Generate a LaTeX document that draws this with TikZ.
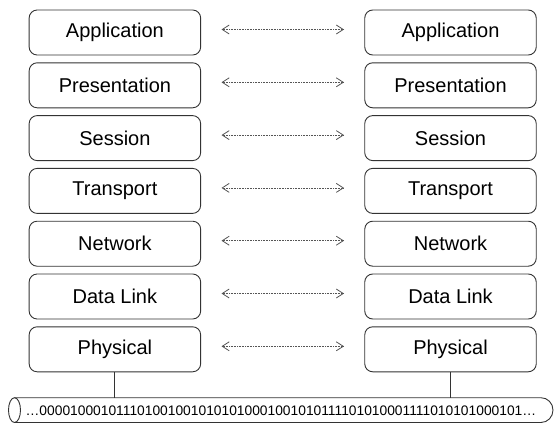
\documentclass[tikz,border=0pt]{standalone}
\usepackage{fontspec}
\setmainfont{Liberation Sans}
\usetikzlibrary{arrows.meta}
\definecolor{edge}{HTML}{333333}
\definecolor{arr}{HTML}{555555}
\tikzset{
  layer/.style={draw=edge, line width=0.9pt, rounded corners=8pt, minimum width=171.5pt, minimum height=45pt, inner sep=0pt, font=\fontsize{20}{22}\selectfont},
  peer/.style={draw=arr, line width=0.5pt, dash pattern=on 1pt off 0.6pt, {Straight Barb[length=7pt,width=9pt,line width=0.8pt]}-{Straight Barb[length=7pt,width=9pt,line width=0.8pt]}},
  wire/.style={draw=edge, line width=0.9pt}
}
\begin{document}
\begin{tikzpicture}[x=1pt,y=-1pt]
\useasboundingbox (0,0) rectangle (555,423);
\foreach \n/\t [count=\i from 0] in {A/Application,P/Presentation,S/Session,T/Transport,N/Network,D/Data Link,H/Physical}{
  \node[layer] (L\n) at (114.9,32.5+52.8*\i) {\t};
  \node[layer] (R\n) at (450.5,32.5+52.8*\i) {\t};
  \coordinate (la\n) at (221.5,29.5+52.8*\i);
  \coordinate (ra\n) at (344,29.5+52.8*\i);
  \draw[peer] (la\n) -- (ra\n);
}
% cable
\coordinate (ctl) at (14.5,397.7);
\coordinate (ctr) at (541,397.7);
\draw[wire] (14.5,410.1) ellipse [x radius=6, y radius=12.4];
\draw[wire] (ctl) -- (ctr) arc[start angle=-90, end angle=90, x radius=12, y radius=12.4] -- (14.5,422.5);
\node[font=\fontsize{13.8}{16}\selectfont, inner sep=0pt] (bits) at (281,410.5) {…0000100010111010010010101010001001010111101010001111010101000101…};
\draw[wire] (LH.south) -- (LH.south |- ctl);
\draw[wire] (RH.south) -- (RH.south |- ctl);
\end{tikzpicture}
\end{document}
